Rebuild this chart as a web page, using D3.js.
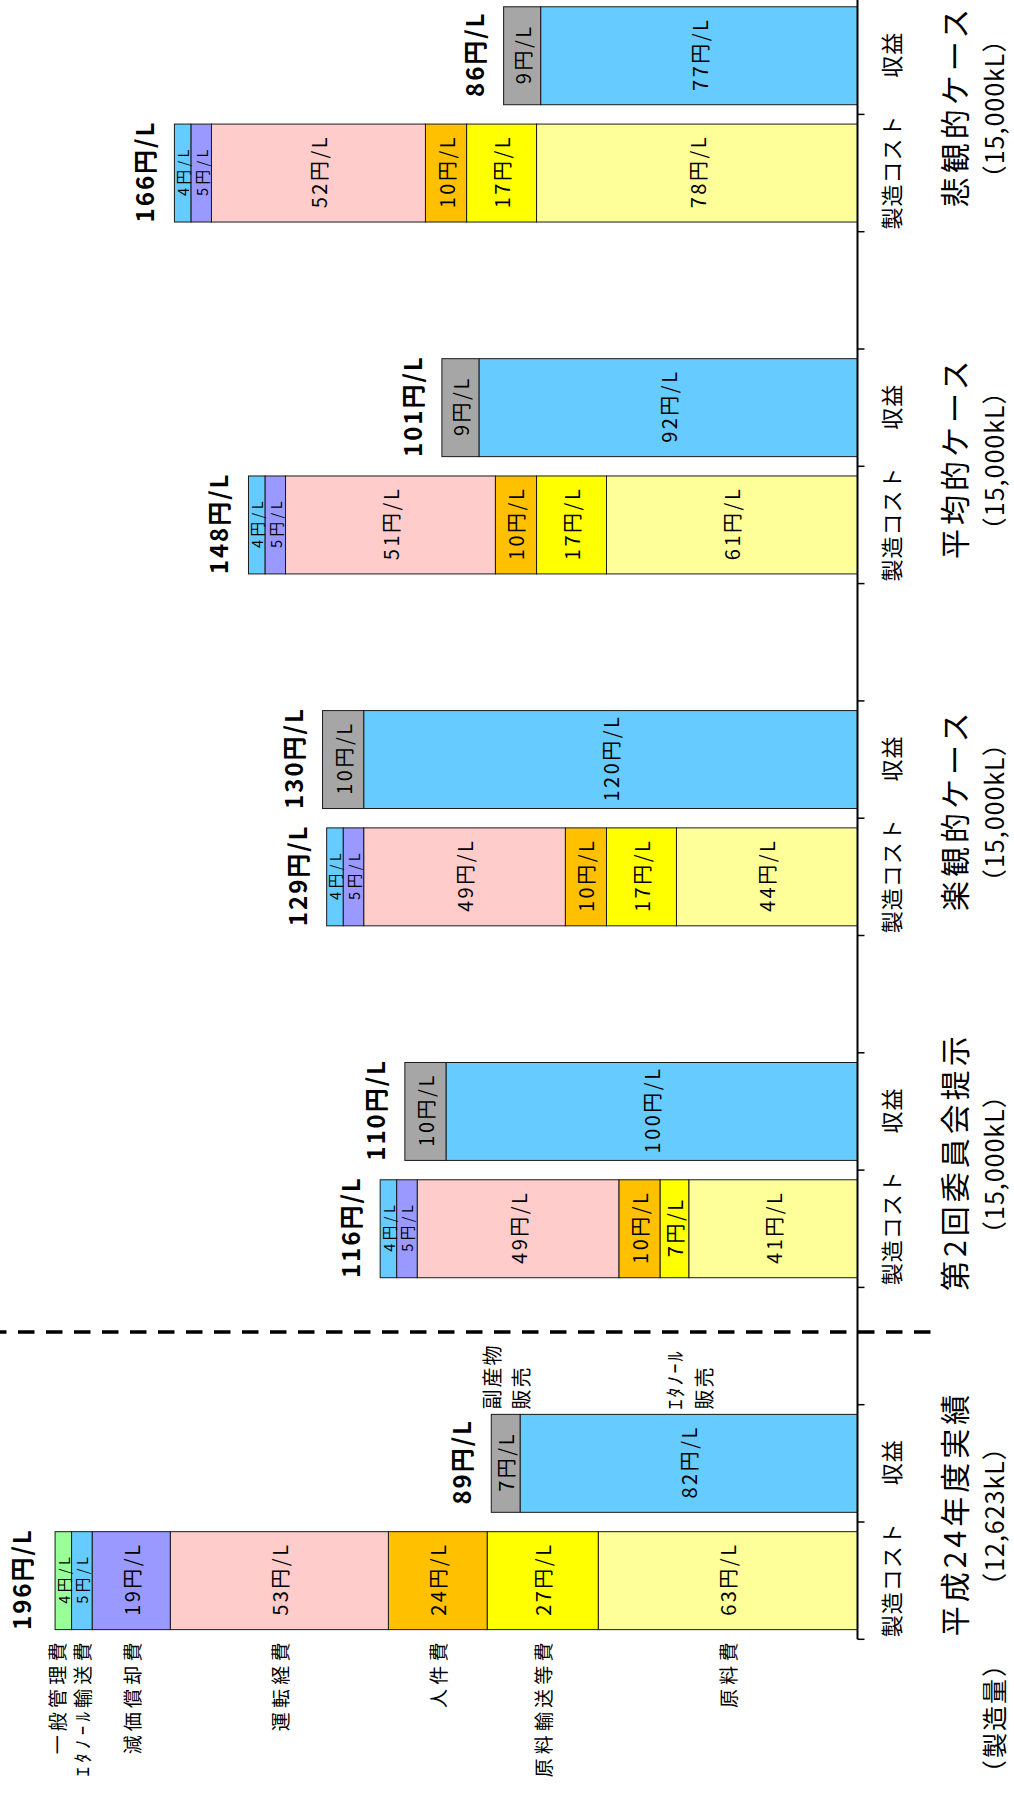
<!DOCTYPE html>
<html><head><meta charset="utf-8">
<script src="https://cdn.jsdelivr.net/npm/d3@7"></script>
<style>
body{margin:0;background:#fff}
svg{display:block}
text{font-family:"Noto Sans CJK JP","Noto Sans",sans-serif;fill:#000}
</style>
</head><body>
<svg id="chart" width="1014" height="1794"></svg>
<script>
// ---- data ----
const groups = ["平成24年度実績","第2回委員会提示","楽観的ケース","平均的ケース","悲観的ケース"];
const volumes = ["（12,623kL）","（15,000kL）","（15,000kL）","（15,000kL）","（15,000kL）"];
const barKinds = ["製造コスト","収益"];
const costSeries = ["原料費","原料輸送等費","人件費","運転経費","減価償却費","ｴﾀﾉｰﾙ輸送費","一般管理費"];
const rawMaterial      = [63, 41, 44, 61, 78];
const rawTransport     = [27,  7, 17, 17, 17];
const labor            = [24, 10, 10, 10, 10];
const operating        = [53, 49, 49, 51, 52];
const depreciation     = [19,  5,  5,  5,  5];
const ethanolTransport = [ 5,  4,  4,  4,  4];
const generalAdmin     = [ 4,  0,  0,  0,  0];
const costTotals       = [196, 116, 129, 148, 166];
const revenueSeries = ["ｴﾀﾉｰﾙ販売","副産物販売"];
const ethanolSales   = [82, 100, 120, 92, 77];
const byproductSales = [ 7,  10,  10,  9,  9];
const revenueTotals  = [89, 110, 130, 101, 86];
const revenueNotes = [["ｴﾀﾉｰﾙ","販売"],["副産物","販売"]];
const volumeHeader = "（製造量）";
const unit = "円/L";

// ---- styles ----
const costColors = {"原料費":"#FFFF99","原料輸送等費":"#FFFF00","人件費":"#FFC000","運転経費":"#FFCCCC",
  "減価償却費":"#9999FF","ｴﾀﾉｰﾙ輸送費":"#66CCFF","一般管理費":"#99FF99"};
const revColors = {"ｴﾀﾉｰﾙ販売":"#66CCFF","副産物販売":"#A6A6A6"};

// ---- layout (drawn landscape, then rotated -90deg) ----
const W = 1794, H = 1014;
const svg = d3.select("#chart");
const g = svg.append("g").attr("transform", `translate(0,${W}) rotate(-90)`);

const cats = [];
groups.forEach((gr, i) => {
  cats.push(gr + "|" + barKinds[0]);
  cats.push(gr + "|" + barKinds[1]);
  if (i < groups.length - 1) cats.push(gr + "|gap");
});
const x = d3.scaleBand().domain(cats).range([154.7, 1796.9]).paddingInner(0.165).paddingOuter(0.0825);
const y = d3.scaleLinear().domain([0, 200]).range([857.5, 857.5 - 823]);
const bw = x.bandwidth();
const step = x.step();
const r0 = x.range()[0];

const costSeriesVals = [rawMaterial, rawTransport, labor, operating, depreciation, ethanolTransport, generalAdmin];
const costRows = groups.map((gr, i) => {
  const row = {cat: gr + "|" + barKinds[0], gi: i};
  costSeries.forEach((s, k) => row[s] = costSeriesVals[k][i]);
  return row;
});
const revSeriesVals = [ethanolSales, byproductSales];
const revRows = groups.map((gr, i) => {
  const row = {cat: gr + "|" + barKinds[1], gi: i};
  revenueSeries.forEach((s, k) => row[s] = revSeriesVals[k][i]);
  return row;
});

const costStack = d3.stack().keys(costSeries)(costRows);
const revStack = d3.stack().keys(revenueSeries)(revRows);

function drawStack(stack, colors) {
  stack.forEach(layer => {
    const key = layer.key;
    layer.forEach(d => {
      const v = d[1] - d[0];
      if (v <= 0) return;
      const cat = d.data.cat;
      g.append("rect")
        .attr("x", x(cat)).attr("width", bw)
        .attr("y", y(d[1])).attr("height", y(d[0]) - y(d[1]))
        .attr("fill", colors[key]).attr("stroke", "#1a1a1a").attr("stroke-width", 1);
      const small = v <= 5;
      g.append("text")
        .attr("x", x(cat) + bw / 2 + (small ? 2 : 1.5))
        .attr("y", (y(d[0]) + y(d[1])) / 2)
        .attr("text-anchor", "middle").attr("dominant-baseline", "central")
        .attr("font-size", small ? 14.5 : 20)
        .attr("letter-spacing", small ? 3.5 : 2.5)
        .text(v + unit);
    });
  });
}
drawStack(costStack, costColors);
drawStack(revStack, revColors);

// totals
function drawTotals(rows, totals) {
  rows.forEach((r, i) => {
    g.append("text")
      .attr("x", x(r.cat) + bw / 2 + 1.5)
      .attr("y", y(totals[i]) - 20)
      .attr("text-anchor", "middle")
      .attr("font-size", 24).attr("font-weight", "bold")
      .attr("letter-spacing", 2)
      .text(totals[i] + unit);
  });
}
drawTotals(costRows, costTotals);
drawTotals(revRows, revenueTotals);

// axis line + ticks at band boundaries
g.append("line").attr("x1", r0).attr("x2", x.range()[1]).attr("y1", y(0)).attr("y2", y(0))
  .attr("stroke", "#000").attr("stroke-width", 2);
d3.range(cats.length + 1).forEach(i => {
  const tx = r0 + i * step;
  g.append("line").attr("x1", tx).attr("x2", tx).attr("y1", y(0)).attr("y2", y(0) + 7)
    .attr("stroke", "#000").attr("stroke-width", 1.5);
});

// category labels under bars
cats.filter(c => !c.endsWith("|gap")).forEach(c => {
  g.append("text")
    .attr("x", x(c) + bw / 2 + 1)
    .attr("y", 900)
    .attr("text-anchor", "middle")
    .attr("font-size", 22).attr("letter-spacing", 1)
    .text(c.split("|")[1]);
});

// group labels
groups.forEach((gr, i) => {
  const cx = (x(gr + "|" + barKinds[0]) + x(gr + "|" + barKinds[1])) / 2 + bw / 2 + 6;
  g.append("text").attr("x", cx + 2.5).attr("y", 966)
    .attr("text-anchor", "middle").attr("font-size", 30).attr("letter-spacing", 4).text(gr);
  g.append("text").attr("x", cx).attr("y", 1004)
    .attr("text-anchor", "middle").attr("font-size", 25).attr("letter-spacing", 1).text(volumes[i]);
});
g.append("text").attr("x", 144).attr("y", 1004)
  .attr("text-anchor", "end").attr("font-size", 25).attr("letter-spacing", 2).text(volumeHeader);

// dashed separator
const gapStart = x(groups[0] + "|gap") - step * 0.165 / 2;
g.append("line")
  .attr("x1", gapStart + step * 0.62).attr("x2", gapStart + step * 0.62)
  .attr("y1", 0).attr("y2", 930.5)
  .attr("stroke", "#000").attr("stroke-width", 3.5)
  .attr("stroke-dasharray", "16.5 11.5").attr("stroke-dashoffset", 10);

// legend labels for the first cost bar
const first = costStack.map(layer => ({key: layer.key, d: layer[0]}))
  .filter(o => o.d[1] - o.d[0] > 0)
  .map(o => ({key: o.key, cy: (y(o.d[0]) + y(o.d[1])) / 2}));
first.sort((a, b) => b.cy - a.cy);
for (let i = 1; i < first.length; i++) {
  if (first[i - 1].cy - first[i].cy < 25) first[i].cy = first[i - 1].cy - 25;
}
first.forEach(o => {
  g.append("text").attr("x", r0 + 1).attr("y", o.cy)
    .attr("text-anchor", "end").attr("dominant-baseline", "central")
    .attr("font-size", 19).attr("letter-spacing", 4.2).text(o.key);
});

// revenue notes next to first revenue bar
const firstRev = revStack.map(layer => ({key: layer.key, d: layer[0]}));
firstRev.forEach((o, k) => {
  const cy = (y(o.d[0]) + y(o.d[1])) / 2;
  const sx = x(revRows[0].cat) + bw + 5;
  revenueNotes[k].forEach((line, j) => {
    g.append("text").attr("x", sx).attr("y", cy + (j === 0 ? -14.5 : 15))
      .attr("dominant-baseline", "central")
      .attr("font-size", 20).attr("letter-spacing", 2).text(line);
  });
});
</script>
</body></html>
